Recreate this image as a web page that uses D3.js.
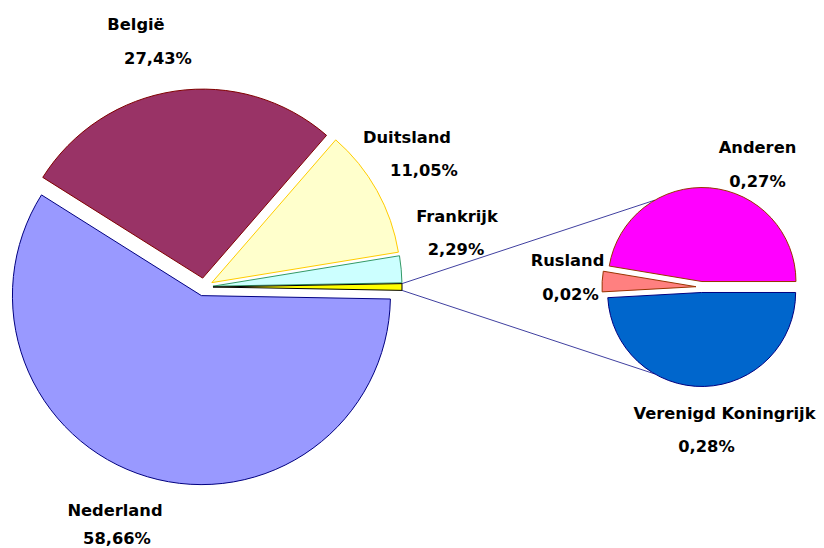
<!DOCTYPE html>
<html>
<head>
<meta charset="utf-8">
<script src="https://cdn.jsdelivr.net/npm/d3@7"></script>
<style>
  body { margin: 0; background: #fff; }
  text { font-family: "DejaVu Sans", Verdana, sans-serif; font-weight: bold; font-size: 16.3px; fill: #000; }
</style>
</head>
<body>
<script>
// Export share per country (percent)
var mainNames = ["Nederland", "België", "Duitsland", "Frankrijk"];
var mainValues = [58.66, 27.43, 11.05, 2.29];

// the small slice of the main pie, split out in the second pie
var otherNames = ["Anderen", "Rusland", "Verenigd Koningrijk"];
var otherValues = [0.27, 0.02, 0.28];

// Layout
var svgWidth = 824, svgHeight = 548;
var mainCenter = [204, 287], mainRadius = 189, mainExplode = 9;
var smallCenter = [701.5, 287], smallRadius = 94, smallExplode = 5.5;
var connectorAngle = 60 * Math.PI / 180; // where the lines meet the small pie (from west)

// fill, stroke
var colors = {
  "Nederland": ["#9999ff", "#000080"],
  "België": ["#993366", "#800000"],
  "Duitsland": ["#ffffcc", "#ffcc00"],
  "Frankrijk": ["#ccffff", "#339966"],
  "other": ["url(#otherGrad)", "#000000"],
  "Anderen": ["#ff00ff", "#993300"],
  "Rusland": ["#ff8080", "#993300"],
  "Verenigd Koningrijk": ["#0066cc", "#000080"]
};

// label placement, offsets from the pie centre: [x line1, y line1, x line2, y line2]
var labelPlace = {
  "België": [-68, -257, -46, -223],
  "Duitsland": [203, -144, 220, -111],
  "Frankrijk": [253, -65, 252, -32],
  "Nederland": [-89, 229, -87, 257],
  "Anderen": [56, -134, 56, -100],
  "Rusland": [-134, -21, -131, 13],
  "Verenigd Koningrijk": [23, 132, 5, 165]
};

var nl = d3.formatLocale({decimal: ",", thousands: ".", grouping: [3], currency: ["", "€"]});
var fmt = nl.format(".2f");

var svg = d3.select("body").append("svg")
  .attr("width", svgWidth)
  .attr("height", svgHeight);

var otherTotal = d3.sum(otherValues);
var otherAngle = 2 * Math.PI * otherTotal / (d3.sum(mainValues) + otherTotal);

// main pie data: countries then the grouped slice, grouped slice centred on the right
var mainData = mainNames.map((n, i) => ({name: n, value: mainValues[i]}));
mainData.push({name: "other", value: otherTotal});

var mainStart = Math.PI / 2 + otherAngle / 2;
var mainPie = d3.pie().sort(null).value(d => d.value)
  .startAngle(mainStart).endAngle(mainStart + 2 * Math.PI);

// second pie runs counter-clockwise from the right
var smallData = otherNames.map((n, i) => ({name: n, value: otherValues[i]}));
var smallPie = d3.pie().sort(null).value(d => d.value)
  .startAngle(Math.PI / 2).endAngle(Math.PI / 2 - 2 * Math.PI);

var mainArc = d3.arc().innerRadius(0).outerRadius(mainRadius);
var smallArc = d3.arc().innerRadius(0).outerRadius(smallRadius);

function offset(d, dist) {
  var mid = (d.startAngle + d.endAngle) / 2;
  return [dist * Math.sin(mid), -dist * Math.cos(mid)];
}

var mainArcs = mainPie(mainData);
var smallArcs = smallPie(smallData);

// gradient for the grouped slice
var defs = svg.append("defs");
var otherArcD = mainArcs[mainArcs.length - 1];
var oOff = offset(otherArcD, mainExplode);
var grad = defs.append("radialGradient")
  .attr("id", "otherGrad")
  .attr("gradientUnits", "userSpaceOnUse")
  .attr("cx", mainCenter[0] + oOff[0]).attr("cy", mainCenter[1] + oOff[1])
  .attr("r", mainRadius);
grad.append("stop").attr("offset", "0%").attr("stop-color", "#222200");
grad.append("stop").attr("offset", "35%").attr("stop-color", "#999900");
grad.append("stop").attr("offset", "60%").attr("stop-color", "#ffff00");
grad.append("stop").attr("offset", "100%").attr("stop-color", "#ffff00");

// connector lines from the grouped slice to the second pie
function pointAt(center, off, r, ang) {
  return [center[0] + off[0] + r * Math.sin(ang), center[1] + off[1] - r * Math.cos(ang)];
}
var topSlice = smallArcs[0], bottomSlice = smallArcs[2];
var connectors = [
  [pointAt(mainCenter, oOff, mainRadius, otherArcD.startAngle),
   pointAt(smallCenter, offset(topSlice, smallExplode), smallRadius, -Math.PI / 2 + connectorAngle)],
  [pointAt(mainCenter, oOff, mainRadius, otherArcD.endAngle),
   pointAt(smallCenter, offset(bottomSlice, smallExplode), smallRadius, -Math.PI / 2 - connectorAngle)]
];
svg.selectAll(".connector")
  .data(connectors)
  .enter()
  .append("line")
  .attr("class", "connector")
  .attr("x1", d => d[0][0]).attr("y1", d => d[0][1])
  .attr("x2", d => d[1][0]).attr("y2", d => d[1][1])
  .attr("stroke", "#4040a0")
  .attr("stroke-width", 1);

// main pie
var mainGroup = svg.append("g")
  .attr("transform", `translate(${mainCenter[0]}, ${mainCenter[1]})`);
mainGroup.selectAll("path")
  .data(mainArcs)
  .enter()
  .append("path")
  .attr("d", mainArc)
  .attr("transform", d => { var o = offset(d, mainExplode); return `translate(${o[0]}, ${o[1]})`; })
  .attr("fill", d => colors[d.data.name][0])
  .attr("stroke", d => colors[d.data.name][1])
  .attr("stroke-width", 1)
  .attr("stroke-linejoin", "round");

// second pie
var smallGroup = svg.append("g")
  .attr("transform", `translate(${smallCenter[0]}, ${smallCenter[1]})`);
smallGroup.selectAll("path")
  .data(smallArcs)
  .enter()
  .append("path")
  .attr("d", smallArc)
  .attr("transform", d => { var o = offset(d, smallExplode); return `translate(${o[0]}, ${o[1]})`; })
  .attr("fill", d => colors[d.data.name][0])
  .attr("stroke", d => colors[d.data.name][1])
  .attr("stroke-width", 1);

// labels: name and percentage on two lines
function addLabels(group, arcs) {
  var lab = group.selectAll(".label")
    .data(arcs.filter(d => labelPlace[d.data.name]))
    .enter()
    .append("g")
    .attr("class", "label");
  lab.append("text")
    .attr("x", d => labelPlace[d.data.name][0])
    .attr("y", d => labelPlace[d.data.name][1])
    .attr("text-anchor", "middle")
    .text(d => d.data.name);
  lab.append("text")
    .attr("x", d => labelPlace[d.data.name][2])
    .attr("y", d => labelPlace[d.data.name][3])
    .attr("text-anchor", "middle")
    .text(d => fmt(d.data.value) + "%");
}
addLabels(mainGroup, mainArcs);
addLabels(smallGroup, smallArcs);
</script>
</body>
</html>
